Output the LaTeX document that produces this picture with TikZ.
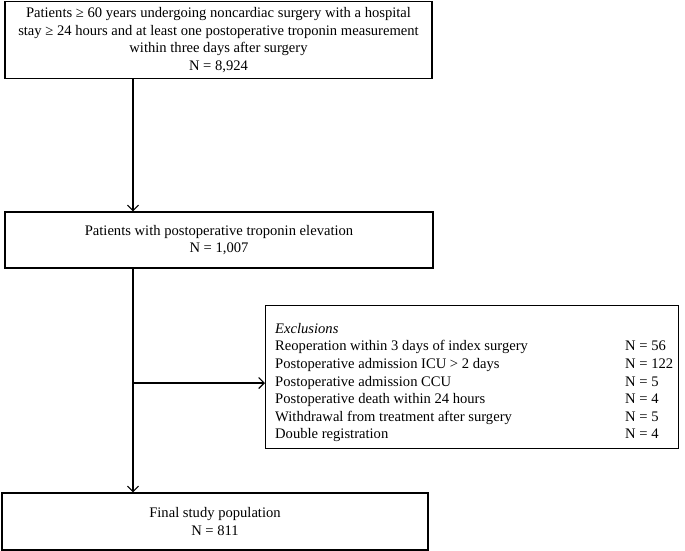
\documentclass[tikz,border=0pt]{standalone}
\usepackage{fontspec}
\setmainfont{Liberation Serif}
\usetikzlibrary{arrows.meta}
\begin{document}
\begin{tikzpicture}[x=1pt,y=-1pt,
  txt/.style={font=\fontsize{14.6}{17.6}\selectfont},
  box/.style={draw,line width=1.3pt,inner sep=0pt,align=center,txt},
  arr/.style={line width=1.1pt,-{Straight Barb[length=5.5pt,width=11pt,line width=1.1pt]}}]
\useasboundingbox (0,0) rectangle (685,551);
\node[box,minimum width=427,minimum height=77] (b1) at (218.5,40)
 {Patients ≥ 60 years undergoing noncardiac surgery with a hospital\\
  stay ≥ 24 hours and at least one postoperative troponin measurement\\
  within three days after surgery\\ N = 8,924};
\node[box,minimum width=428,minimum height=56] (b2) at (219,240)
 {Patients with postoperative troponin elevation\\ N = 1,007};
\node[box,minimum width=413,minimum height=143,anchor=north west] (b3) at (265,305) {};
\node[txt,inner sep=0pt,anchor=west] (b3t) at ([xshift=10pt,yshift=-5.5pt]b3.west)
 {\begin{tabular}{@{}p{350pt}@{}l@{}}
  \textit{Exclusions} & \\
  Reoperation within 3 days of index surgery & N = 56\\
  Postoperative admission ICU > 2 days & N = 122\\
  Postoperative admission CCU & N = 5\\
  Postoperative death within 24 hours & N = 4\\
  Withdrawal from treatment after surgery & N = 5\\
  Double registration & N = 4
  \end{tabular}};
\node[box,minimum width=426,minimum height=57] (b4) at (215,521.5)
 {Final study population\\ N = 811};
\coordinate (ax) at (133,0);
\coordinate (ay) at (0,383);
\draw[arr] (b1.south -| ax) -- (b2.north -| ax);
\draw[arr] (b2.south -| ax) -- (b4.north -| ax);
\draw[arr] (ax |- ay) -- (b3.west |- ay);
\end{tikzpicture}
\end{document}
